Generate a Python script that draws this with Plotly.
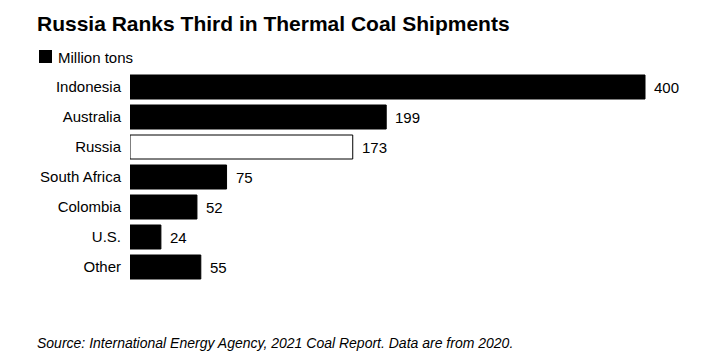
import plotly.graph_objects as go

categories = ["Indonesia", "Australia", "Russia", "South Africa", "Colombia", "U.S.", "Other"]
values = [400, 199, 173, 75, 52, 24, 55]
highlight = "Russia"
series_name = "Million tons"
title = "Russia Ranks Third in Thermal Coal Shipments"
source = "Source: International Energy Agency, 2021 Coal Report. Data are from 2020."

W, H = 725, 360
L, R, T, B = 130, 15, 72, 78
pw, ph = W - L - R, H - T - B
xmax = pw / 1.2875

FONT = "Liberation Sans, Arial, sans-serif"

fills = ["white" if c == highlight else "black" for c in categories]

fig = go.Figure()
fig.add_trace(go.Bar(
    y=categories, x=values, orientation="h",
    marker=dict(color=fills, line=dict(color="black", width=1)),
    width=0.8, name=series_name, showlegend=False, hoverinfo="skip",
))

for c, v in zip(categories, values):
    fig.add_annotation(x=v, y=c, text=str(v), showarrow=False, xanchor="left",
                       xshift=7, font=dict(family=FONT, size=15, color="#000"))

def px_x(p):
    return (p - L) / pw

def px_y(p):
    return (H - B - p) / ph

# legend swatch + label
fig.add_shape(type="rect", xref="paper", yref="paper",
              x0=px_x(39), x1=px_x(52), y0=px_y(63), y1=px_y(50),
              fillcolor="black", line=dict(width=0))
fig.add_annotation(xref="paper", yref="paper", x=px_x(56), y=px_y(57),
                   text=series_name, showarrow=False, xanchor="left", yanchor="middle",
                   font=dict(family=FONT, size=15, color="#000"))

fig.update_layout(
    width=W, height=H,
    margin=dict(l=L, r=R, t=T, b=B),
    paper_bgcolor="white", plot_bgcolor="white",
    title=dict(text=f"<b>{title}</b>", x=37 / W, xanchor="left", xref="container",
               y=1 - 16 / H, yanchor="top", yref="container",
               font=dict(family=FONT, size=21, color="#000")),
    xaxis=dict(range=[0, xmax], showgrid=False, zeroline=False, showticklabels=False,
               showline=False, fixedrange=True),
    yaxis=dict(autorange="reversed", showgrid=False, zeroline=False, showline=False,
               ticks="", ticklabelstandoff=8, fixedrange=True,
               tickfont=dict(family=FONT, size=15, color="#000")),
    bargap=0.2,
    showlegend=False,
)

fig.add_annotation(xref="paper", yref="paper", x=px_x(35), y=px_y(343),
                   text=f"<i>{source}</i>", showarrow=False, xanchor="left", yanchor="middle",
                   font=dict(family=FONT, size=14, color="#000"))

fig.write_html("out.html", config={"displayModeBar": False},
               post_script="document.body.style.margin='0';document.body.style.overflow='hidden';")
